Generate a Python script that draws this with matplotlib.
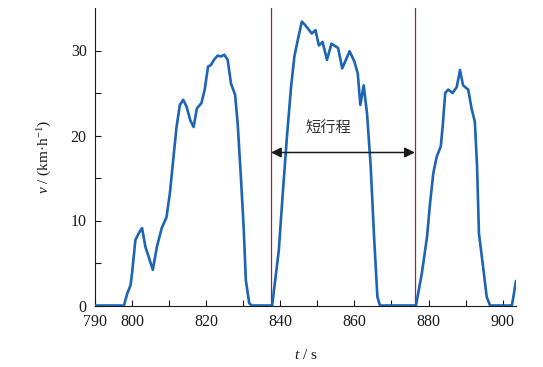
import matplotlib
matplotlib.use("Agg")
import matplotlib.pyplot as plt

plt.rcParams['font.family'] = ['Liberation Serif', 'DejaVu Serif']
plt.rcParams['mathtext.fontset'] = 'custom'
plt.rcParams['mathtext.rm'] = 'Liberation Serif'
plt.rcParams['mathtext.it'] = 'Liberation Serif:italic'

t = [790, 797.8, 798.7, 799.6, 800.0, 800.9, 801.8, 802.7, 803.6, 804.5, 805.6, 806.7, 808.0,
     809.3, 810.2, 811.1, 812.0, 812.9, 813.8, 814.7, 815.7, 816.6, 817.5, 818.7, 819.6, 820.5,
     821.3, 822.1, 823.1, 824.0, 824.9, 825.8, 826.7, 827.8, 828.5, 829.3, 830.1, 830.7, 831.6,
     832.2, 837.8, 839.6, 840.6, 841.8, 842.9, 843.8, 844.7, 845.8, 846.7, 848.5, 849.5, 850.4,
     851.4, 852.6, 853.8, 855.6, 856.7, 858.7, 860.0, 860.9, 861.6, 862.5, 863.4, 864.4, 865.3,
     866.2, 866.9, 876.6, 878.2, 879.6, 880.4, 881.3, 882.2, 883.3, 883.8, 884.5, 885.3, 886.5,
     887.6, 888.5, 889.3, 890.7, 891.6, 892.5, 893.1, 893.6, 894.7, 895.7, 896.6, 902.5, 903.6]
v = [0, 0, 1.4, 2.4, 3.8, 7.7, 8.5, 9.1, 6.9, 5.7, 4.2, 6.9, 9.1,
     10.4, 13.2, 17.1, 21.0, 23.6, 24.2, 23.4, 21.8, 21.0, 23.2, 23.8, 25.4, 28.1,
     28.3, 28.9, 29.4, 29.3, 29.5, 28.9, 26.1, 24.8, 21.4, 15.6, 9.3, 3.0, 0.3,
     0, 0, 6.5, 12.8, 19.9, 25.7, 29.3, 31.2, 33.4, 33.0, 32.0, 32.4, 30.6,
     31.0, 28.9, 30.8, 30.3, 27.9, 29.9, 28.7, 27.3, 23.6, 25.9, 22.6, 16.3, 8.1,
     1.0, 0, 0, 3.8, 8.1, 12.0, 15.6, 17.5, 18.7, 21.0, 25.0, 25.4, 25.0,
     25.7, 27.7, 25.9, 25.4, 23.2, 21.6, 16.3, 8.5, 4.6, 1.0, 0, 0, 2.9]

stroke_bounds = [837.5, 876.3]
arrow_v = 18.0
label_text = "短行程"
xticks_major = [790, 800, 820, 840, 860, 880, 900]
xticks_minor = [810, 830, 850, 870, 890]
yticks_major = [0, 10, 20, 30]
yticks_minor = [5, 15, 25]

fig = plt.figure(figsize=(5.43, 3.67), dpi=100)
ax = fig.add_axes([95/543, 1 - 305.5/367, (516-95)/543, (305.5-8)/367])

ax.plot(t, v, color='#1c64b4', lw=1.9, solid_joinstyle='round', solid_capstyle='round', zorder=3)

for xb in stroke_bounds:
    ax.axvline(xb, color='#9a2a2e', lw=0.9, zorder=2)

ax.annotate('', xy=(stroke_bounds[0], arrow_v), xytext=(stroke_bounds[1], arrow_v),
            arrowprops=dict(arrowstyle='<|-|>', color='#1a1a1a', lw=1.1,
                            mutation_scale=15, shrinkA=0, shrinkB=0), zorder=4)
ax.text(853, 20.9, label_text, fontsize=11, color='#333333', ha='center', va='center',
        family=['Noto Sans CJK SC', 'DejaVu Sans'])

ax.set_xlim(790, 903.6)
ax.set_ylim(0, 35)
ax.set_xticks(xticks_major)
ax.set_xticks(xticks_minor, minor=True)
ax.set_yticks(yticks_major)
ax.set_yticks(yticks_minor, minor=True)
ax.tick_params(which='both', direction='in', length=4, width=0.8, labelsize=11.5,
               colors='#1a1a1a')
ax.tick_params(axis='x', pad=6)
ax.tick_params(axis='y', pad=6)
for s in ['top', 'right']:
    ax.spines[s].set_visible(False)
for s in ['left', 'bottom']:
    ax.spines[s].set_linewidth(0.8)
    ax.spines[s].set_color('#1a1a1a')

ax.set_xlabel(r'$t$ / s', fontsize=11, color='#1a1a1a', labelpad=13)
ax.set_ylabel(r'$v$ / (km·h$^{-1}$)', fontsize=11, color='#1a1a1a', labelpad=12)

fig.savefig('out.png', dpi=100)
